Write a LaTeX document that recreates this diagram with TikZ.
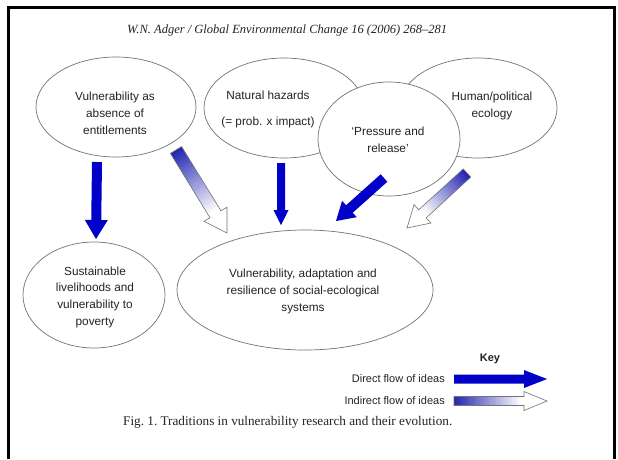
\documentclass[tikz,border=0pt]{standalone}
\usepackage{fontspec}
\setmainfont{Liberation Serif}
\newfontfamily\labelfont{Liberation Sans}
\usetikzlibrary{calc,shapes.geometric}

\definecolor{flowblue}{RGB}{0,0,200}
\definecolor{fadeblue}{RGB}{30,30,175}
\definecolor{rimgray}{RGB}{115,115,115}
\definecolor{inktext}{RGB}{35,35,35}

\tikzset{
  bubble/.style={ellipse, draw=rimgray, line width=0.7pt, fill=white, inner sep=0pt},
  bubbletext/.style={font=\labelfont\fontsize{11.8pt}{17pt}\selectfont, text=inktext, align=center, inner sep=0pt},
  keytext/.style={font=\labelfont\fontsize{11pt}{13pt}\selectfont, text=inktext, inner sep=0pt},
  directbody/.style={fill=flowblue},
  arrowedge/.style={draw=rimgray, line width=0.6pt, line join=miter},
}

% outline of a block arrow: #1 path options, #2 arrow name,
% #3 half width of the shaft, #4 half width of the head
\newcommand\arrowbody[4]{%
  \path[#1] ($(#2-tail)!#3!90:(#2-tip)$) -- ($(#2-base)!#3!90:(#2-tip)$)
    -- ($(#2-base)!#4!90:(#2-tip)$) -- (#2-tip)
    -- ($(#2-base)!#4!-90:(#2-tip)$) -- ($(#2-base)!#3!-90:(#2-tip)$)
    -- ($(#2-tail)!#3!-90:(#2-tip)$) -- cycle;}

% solid arrow: #1 name, #2 shaft half width, #3 head half width, #4 head length
\newcommand\directarrow[4]{%
  \coordinate (#1-base) at ($(#1-tip)!#4!(#1-tail)$);
  \arrowbody{directbody}{#1}{#2}{#3}}

% fading arrow: blue at the tail, white at the head
\newcommand\indirectarrow[4]{%
  \coordinate (#1-base) at ($(#1-tip)!#4!(#1-tail)$);
  \foreach \k in {0,...,29}{%
    \pgfmathsetmacro\ta{\k/30}%
    \pgfmathsetmacro\tb{min(1,(\k+1.4)/30)}%
    \pgfmathtruncatemacro\tint{max(0,97*(1-\ta/0.95))}%
    \coordinate (#1-p) at ($(#1-tail)!\ta!(#1-base)$);
    \coordinate (#1-q) at ($(#1-tail)!\tb!(#1-base)$);
    \fill[fadeblue!\tint!white] ($(#1-p)!#2!90:(#1-tip)$) -- ($(#1-q)!#2!90:(#1-tip)$)
      -- ($(#1-q)!#2!-90:(#1-tip)$) -- ($(#1-p)!#2!-90:(#1-tip)$) -- cycle;
  }
  \fill[white] ($(#1-base)!#3!90:(#1-tip)$) -- (#1-tip) -- ($(#1-base)!#3!-90:(#1-tip)$) -- cycle;
  \arrowbody{arrowedge}{#1}{#2}{#3}}

\begin{document}
\begin{tikzpicture}[x=1pt, y=-1pt]
\useasboundingbox (0,0) rectangle (618,459);
\fill[white] (0,0) rectangle (618,459);

% page frame
\draw[line width=3.5pt, line join=miter] (8.3,459) -- (8.3,7.3) -- (614.5,7.3) -- (614.5,459);

% running head
\node[anchor=west, inner sep=0pt, font=\itshape\fontsize{12.5pt}{14pt}\selectfont, text=inktext]
  (runhead) at (127,30) {W.N. Adger / Global Environmental Change 16 (2006) 268--281};

% traditions
\node[bubble, minimum width=160pt, minimum height=100pt] (entitle) at (116,107) {};
\node[bubbletext] (entitle-t) at (115,113) {Vulnerability as\\absence of\\entitlements};

\node[bubble, minimum width=160pt, minimum height=100pt] (hazards) at (284,108) {};
\node[bubble, minimum width=158pt, minimum height=100pt] (human) at (478,108) {};
\node[bubble, minimum width=142pt, minimum height=114pt] (par) at (389,139) {};

\node[bubbletext] (hazards-t) at (268,109) {Natural hazards\\[9pt](= prob. x impact)};
\node[bubbletext] (human-t) at (492,106) {Human/political\\ecology};
\node[bubbletext] (par-t) at (388,140) {‘Pressure and\\release’};

\node[bubble, minimum width=142pt, minimum height=106pt] (livelihood) at (94,295) {};
\node[bubbletext, font=\labelfont\fontsize{11.8pt}{16.7pt}\selectfont] (livelihood-t) at (95,297)
  {Sustainable\\livelihoods and\\vulnerability to\\poverty};

\node[bubble, minimum width=256pt, minimum height=120pt] (ses) at (305,290) {};
\node[bubbletext] (ses-t) at (303,291)
  {Vulnerability, adaptation and\\resilience of social-ecological\\systems};

% flows of ideas
\coordinate (a1-tail) at (97,162);  \coordinate (a1-tip) at (96,239);
\coordinate (a2-tail) at (176,150); \coordinate (a2-tip) at (227,233);
\coordinate (a3-tail) at (281,163); \coordinate (a3-tip) at (281,225);
\coordinate (a4-tail) at (384,178); \coordinate (a4-tip) at (336,221);
\coordinate (a5-tail) at (467,173); \coordinate (a5-tip) at (407,228);

\directarrow{a1}{5pt}{11.5pt}{19pt}
\indirectarrow{a2}{6.5pt}{13.5pt}{22pt}
\directarrow{a3}{4pt}{7.5pt}{15pt}
\directarrow{a4}{5pt}{11pt}{18pt}
\indirectarrow{a5}{5.5pt}{12.5pt}{21pt}

% key
\node[font=\labelfont\bfseries\fontsize{11pt}{13pt}\selectfont, text=inktext, inner sep=0pt] (keyhead) at (490,359) {Key};
\node[keytext, anchor=east] (key-direct) at (445,379) {Direct flow of ideas};
\node[keytext, anchor=east] (key-indirect) at (445,401) {Indirect flow of ideas};

\coordinate (k1-tail) at (454,379); \coordinate (k1-tip) at (547,379);
\coordinate (k2-tail) at (454,401); \coordinate (k2-tip) at (547,401);
\directarrow{k1}{4.5pt}{9pt}{23pt}
\indirectarrow{k2}{4.5pt}{9.5pt}{23pt}

% caption
\node[anchor=west, inner sep=0pt, font=\fontsize{13.2pt}{15pt}\selectfont, text=inktext]
  (caption) at (123,422) {Fig.~1.\ Traditions in vulnerability research and their evolution.};
\end{tikzpicture}
\end{document}
